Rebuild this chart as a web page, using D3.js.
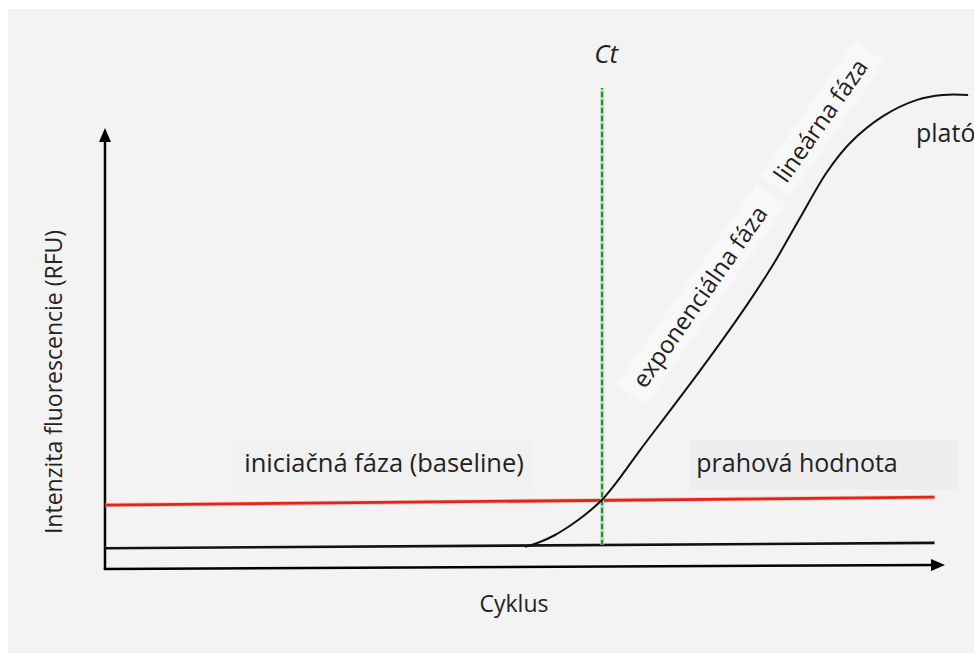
<!DOCTYPE html>
<html><head><meta charset="utf-8">
<script src="https://cdn.jsdelivr.net/npm/d3@7"></script>
<style>html,body{margin:0;padding:0;background:#fff;} svg{display:block;}</style>
</head><body><svg id="chart" width="974" height="653"></svg>
<script>
// ---- data ----
const curveCycles = [20.0, 20.71, 21.43, 22.14, 22.86, 23.67, 24.52, 25.48, 26.67, 28.0, 29.29, 30.57, 31.81, 33.10, 34.38, 35.48, 37.05, 38.67, 39.90, 41.10];
const curveRfu    = [4.8, 5.9, 7.5, 9.6, 12.1, 15.5, 20.5, 26.8, 34.3, 42.7, 51.1, 59.8, 68.9, 79.6, 90.0, 96.6, 102.7, 106.4, 107.5, 107.5];
const baselineCycles = [0, 39.5];
const baselineRfu = [4.5, 5.7];
const thresholdCycles = [0, 39.5];
const thresholdRfu = [14.3, 16.1];
const ctCycle = 23.67;
const ctRfuRange = [5.2, 109.1];
const xAxisCycles = [0, 40];
const xAxisRfu = [-0.2, 0.7];
const yAxisRfu = [-0.2, 100];
const labels = ["Ct", "lineárna fáza", "exponenciálna fáza", "plató", "iniciačná fáza (baseline)", "prahová hodnota"];
const xTitle = "Cyklus";
const yTitle = "Intenzita fluorescencie (RFU)";

// ---- layout ----
const W = 974, H = 653;
const svg = d3.select("#chart");
const x = d3.scaleLinear().domain([0, 40]).range([105, 945]);
const y = d3.scaleLinear().domain([0, 100]).range([568, 128]);
const font = "'Open Sans', 'Noto Sans', sans-serif";

svg.append("rect").attr("width", W).attr("height", H).attr("fill", "#ffffff");
svg.append("rect").attr("x", 8).attr("y", 9).attr("width", W - 8).attr("height", H - 9).attr("fill", "#f3f3f3");

// subtle editing boxes behind labels
svg.append("rect").attr("x", 690).attr("y", 440).attr("width", 268).attr("height", 50).attr("fill", "#ededed");
svg.append("rect").attr("x", 236).attr("y", 440).attr("width", 295).attr("height", 52).attr("fill", "#f1f1f1");
// whitish bands along rotated labels
svg.append("rect").attr("x", -120).attr("y", -17).attr("width", 245).attr("height", 36)
  .attr("fill", "#f8f8f8").attr("transform", "translate(699,296) rotate(-55)");
svg.append("rect").attr("x", -80).attr("y", -17).attr("width", 165).attr("height", 36)
  .attr("fill", "#f8f8f8").attr("transform", "translate(820,120) rotate(-55)");

const line = d3.line().x(d => x(d[0])).y(d => y(d[1]));

// axes
svg.append("path").attr("d", line([[0, yAxisRfu[0]], [0, yAxisRfu[1] - 2.5]]))
  .attr("stroke", "#000").attr("stroke-width", 2.5).attr("fill", "none");
svg.append("path").attr("d", line([[xAxisCycles[0] - 0.06, xAxisRfu[0]], [xAxisCycles[1] - 0.5, xAxisRfu[1]]]))
  .attr("stroke", "#000").attr("stroke-width", 2.5).attr("fill", "none");

function arrowHead(tipX, tipY, angleDeg, len, half) {
  const a = angleDeg * Math.PI / 180;
  const bx = tipX - len * Math.cos(a), by = tipY - len * Math.sin(a);
  const px = -Math.sin(a) * half, py = Math.cos(a) * half;
  return `M${tipX},${tipY}L${bx + px},${by + py}L${bx - px},${by - py}Z`;
}
svg.append("path").attr("d", arrowHead(x(0), y(yAxisRfu[1]), -90, 14, 6)).attr("fill", "#000");
const xAng = Math.atan2(y(xAxisRfu[1]) - y(xAxisRfu[0]), x(xAxisCycles[1]) - x(xAxisCycles[0])) * 180 / Math.PI;
svg.append("path").attr("d", arrowHead(x(xAxisCycles[1]), y(xAxisRfu[1]), xAng, 14, 6)).attr("fill", "#000");

// baseline
svg.append("path").attr("d", line(baselineCycles.map((c, i) => [c, baselineRfu[i]])))
  .attr("stroke", "#111").attr("stroke-width", 2.6).attr("fill", "none");

// threshold
svg.append("path").attr("d", line(thresholdCycles.map((c, i) => [c, thresholdRfu[i]])))
  .attr("stroke", "#f3a08a").attr("stroke-width", 4.5).attr("fill", "none").attr("opacity", 0.5);
svg.append("path").attr("d", line(thresholdCycles.map((c, i) => [c, thresholdRfu[i]])))
  .attr("stroke", "#e3241b").attr("stroke-width", 2.8).attr("fill", "none");

// Ct dashed
svg.append("path").attr("d", line([[ctCycle, ctRfuRange[0]], [ctCycle, ctRfuRange[1]]]))
  .attr("stroke", "#a8dcae").attr("stroke-width", 3.5).attr("fill", "none");
svg.append("path").attr("d", line([[ctCycle, ctRfuRange[0]], [ctCycle, ctRfuRange[1]]]))
  .attr("stroke", "#1f8a32").attr("stroke-width", 2).attr("stroke-dasharray", "5,3").attr("fill", "none");

// amplification curve
const curveLine = d3.line().x(d => x(d[0])).y(d => y(d[1])).curve(d3.curveCatmullRom.alpha(0.5));
svg.append("path").attr("d", curveLine(curveCycles.map((c, i) => [c, curveRfu[i]])))
  .attr("stroke", "#111").attr("stroke-width", 2).attr("fill", "none");

// texts
function txt(s, tx, ty, opts = {}) {
  return svg.append("text").text(s)
    .attr("transform", `translate(${tx},${ty})` + (opts.rot ? ` rotate(${opts.rot})` : ""))
    .attr("text-anchor", opts.anchor || "middle")
    .attr("dominant-baseline", opts.base || "alphabetic")
    .attr("font-family", font).attr("font-size", opts.size || 23)
    .attr("font-style", opts.italic ? "italic" : "normal")
    .attr("fill", "#222");
}
txt(labels[0], x(ctCycle) + 4, 63, { italic: true, size: 26 });
txt(labels[1], 820, 120, { rot: -55, base: "central", size: 24 });
txt(labels[2], 699, 296, { rot: -55, base: "central", size: 24 });
txt(labels[3], 916, 142, { anchor: "start", size: 25 });
txt(labels[4], 384, 472, { size: 25.5 });
txt(labels[5], 797, 472, { size: 25 });
txt(xTitle, 514, 612, { size: 23 });
txt(yTitle, 0, 0, { size: 23 }).attr("transform", "translate(62,382) rotate(-90)");
</script></body></html>
